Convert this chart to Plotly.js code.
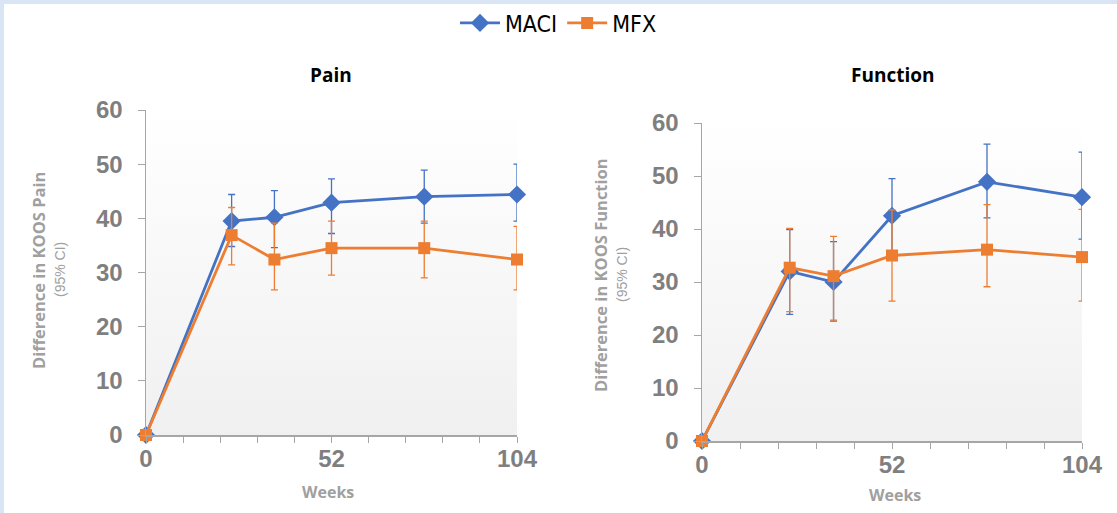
<!DOCTYPE html>
<html>
<head>
<meta charset="utf-8">
<script src="https://cdn.plot.ly/plotly-3.0.1.min.js"></script>
<style>html,body{margin:0;padding:0;background:#fff;}#chart{width:1117px;height:513px;}</style>
</head>
<body>
<div id="chart"></div>
<script>
// ---- data ----
const weeks = [0, 24, 36, 52, 78, 104];

const painMACI      = [0, 39.5, 40.2, 42.9, 44.0, 44.4];
const painMACIHigh  = [0, 44.4, 45.1, 47.3, 48.9, 50.0];
const painMACILow   = [0, 34.8, 34.6, 37.2, 39.1, 39.5];
const painMFX       = [0, 36.9, 32.4, 34.5, 34.5, 32.4];
const painMFXHigh   = [0, 42.0, 39.1, 39.5, 39.5, 38.5];
const painMFXLow    = [0, 31.4, 26.8, 29.5, 29.0, 26.8];

const funcMACI      = [0, 32.0, 30.0, 42.5, 48.9, 46.0];
const funcMACIHigh  = [0, 39.9, 37.6, 49.5, 56.0, 54.5];
const funcMACILow   = [0, 23.9, 22.6, 35.5, 42.1, 38.1];
const funcMFX       = [0, 32.7, 31.1, 35.0, 36.1, 34.7];
const funcMFXHigh   = [0, 40.1, 38.6, 43.6, 44.6, 43.7];
const funcMFXLow    = [0, 24.4, 22.8, 26.4, 29.1, 26.4];

const xTickVals  = [0, 10.4, 20.8, 31.2, 41.6, 52, 62.4, 72.8, 83.2, 93.6, 104];
const xTickText  = ['0', '', '', '', '', '52', '', '', '', '', '104'];
const yTickVals  = [0, 10, 20, 30, 40, 50, 60];
const seriesNames = ['MACI', 'MFX'];
const panelTitles = ['Pain', 'Function'];
const yTitles = ['Difference in KOOS Pain', 'Difference in KOOS Function'];
const ciLabel = '(95% CI)';
const xTitle = 'Weeks';

// ---- styling ----
const BLUE = '#4472c4', ORANGE = '#ed7d31';
const W = 1117, H = 513;
const px = v => v / W, py = v => 1 - v / H;

function up(v, hi) { return hi.map((h, i) => +(h - v[i]).toFixed(2)); }
function dn(v, lo) { return lo.map((l, i) => +(v[i] - l).toFixed(2)); }

function series(y, hi, lo, name, color, sym, size, xa, ya, showleg) {
  return {
    x: weeks, y: y, name: name, type: 'scatter', mode: 'lines+markers',
    xaxis: xa, yaxis: ya, showlegend: showleg, cliponaxis: false,
    line: {color: color, width: 2.8},
    marker: {symbol: sym, size: size, color: color},
    error_y: {type: 'data', symmetric: false, array: up(y, hi), arrayminus: dn(y, lo),
              color: color, thickness: 1.3, width: 3.5}
  };
}

const data = [
  series(painMACI, painMACIHigh, painMACILow, seriesNames[0], BLUE, 'diamond', 14, 'x', 'y', true),
  series(painMFX, painMFXHigh, painMFXLow, seriesNames[1], ORANGE, 'square', 12, 'x', 'y', true),
  series(funcMACI, funcMACIHigh, funcMACILow, seriesNames[0], BLUE, 'diamond', 14, 'x2', 'y2', false),
  series(funcMFX, funcMFXHigh, funcMFXLow, seriesNames[1], ORANGE, 'square', 12, 'x2', 'y2', false)
];

const tickFont = {family: 'Liberation Sans, Arial, sans-serif', size: 24, color: '#7f7f7f', weight: 'bold'};

function xaxis(domain, anchor) {
  return {domain: domain, anchor: anchor, range: [0, 104], tickmode: 'array',
    tickvals: xTickVals, ticktext: xTickText, ticks: 'outside', ticklen: 6, tickcolor: '#a6a6a6',
    showline: true, linecolor: '#a6a6a6', linewidth: 1.5, showgrid: false, zeroline: false,
    tickfont: tickFont, ticklabelstandoff: -4, fixedrange: true};
}
function yaxis(domain, anchor) {
  return {domain: domain, anchor: anchor, range: [0, 60], tickmode: 'array',
    tickvals: yTickVals, ticks: 'outside', ticklen: 7, tickcolor: '#a6a6a6',
    showline: true, linecolor: '#a6a6a6', linewidth: 1.5, showgrid: false, zeroline: false,
    tickfont: tickFont, ticklabelstandoff: 10, fixedrange: true};
}

// plot-area pixel boxes
const P1 = {l: 146, r: 517, t: 110, b: 435};
const P2 = {l: 702, r: 1082, t: 123, b: 441};

const gradSvg = 'data:image/svg+xml;utf8,' + encodeURIComponent(
  '<svg xmlns="http://www.w3.org/2000/svg" width="100" height="100" preserveAspectRatio="none">' +
  '<defs><linearGradient id="g" x1="0" y1="0" x2="0" y2="1">' +
  '<stop offset="0" stop-color="#ffffff"/><stop offset="1" stop-color="#f0f0f0"/></linearGradient></defs>' +
  '<rect width="100" height="100" fill="url(#g)"/></svg>');

function bgImage(P) {
  return {source: gradSvg, xref: 'paper', yref: 'paper', x: px(P.l), y: py(P.t),
    sizex: px(P.r) - px(P.l), sizey: py(P.t) - py(P.b), sizing: 'stretch',
    xanchor: 'left', yanchor: 'top', layer: 'below'};
}

const titleFont = {family: 'Open Sans, Noto Sans, sans-serif', size: 19, color: '#000', weight: 'bold'};
const axTitleFont = {family: 'Open Sans, Noto Sans, sans-serif', size: 16.5, color: '#a0a0a0', weight: 'bold'};
const weeksFont = {family: 'Open Sans, Noto Sans, sans-serif', size: 16, color: '#a0a0a0', weight: 'bold'};
const ciFont = {family: 'Liberation Sans, Arial, sans-serif', size: 14, color: '#a0a0a0'};

function ann(text, x, y, font, angle) {
  return {text: text, xref: 'paper', yref: 'paper', x: px(x), y: py(y),
    xanchor: 'center', yanchor: 'middle', showarrow: false, font: font, textangle: angle || 0};
}

const layout = {
  width: W, height: H,
  margin: {l: 0, r: 0, t: 0, b: 0},
  paper_bgcolor: '#ffffff', plot_bgcolor: 'rgba(0,0,0,0)',
  showlegend: true,
  legend: {orientation: 'h', x: 0.5, xanchor: 'center', y: py(23), yanchor: 'middle',
    font: {family: 'Liberation Sans Narrow, DejaVu Sans Condensed, sans-serif', size: 23, color: '#000'},
    itemwidth: 40, tracegroupgap: 0, bgcolor: 'rgba(0,0,0,0)'},
  xaxis: xaxis([px(P1.l), px(P1.r)], 'y'),
  yaxis: yaxis([py(P1.b), py(P1.t)], 'x'),
  xaxis2: xaxis([px(P2.l), px(P2.r)], 'y2'),
  yaxis2: yaxis([py(P2.b), py(P2.t)], 'x2'),
  images: [bgImage(P1), bgImage(P2)],
  shapes: [
    {type: 'rect', xref: 'paper', yref: 'paper', x0: 0, x1: 1, y0: py(4), y1: 1, fillcolor: '#d9e5f5', line: {width: 0}},
    {type: 'rect', xref: 'paper', yref: 'paper', x0: 0, x1: px(4), y0: 0, y1: 1, fillcolor: '#d9e5f5', line: {width: 0}}
  ],
  annotations: [
    ann(panelTitles[0], 331, 75, titleFont),
    ann(panelTitles[1], 892, 75, titleFont),
    ann(yTitles[0], 38, 270, axTitleFont, -90),
    ann(ciLabel, 60, 270, ciFont, -90),
    ann(yTitles[1], 600, 275, axTitleFont, -90),
    ann(ciLabel, 622, 275, ciFont, -90),
    ann(xTitle, 328, 492, weeksFont),
    ann(xTitle, 895, 495, weeksFont)
  ]
};

Plotly.newPlot('chart', data, layout, {displayModeBar: false, staticPlot: true});
</script>
</body>
</html>
